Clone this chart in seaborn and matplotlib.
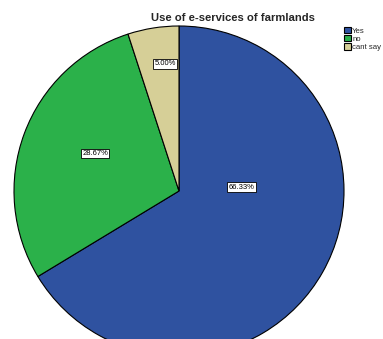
import matplotlib
matplotlib.use("Agg")
import matplotlib.pyplot as plt
import seaborn as sns
import numpy as np

# Data
labels = ["Yes", "no", "cant say"]
shares = [66.33, 28.67, 5.00]
colors = ["#2f52a0", "#2bb14a", "#d6cf97"]

sns.set_theme(style="white")
plt.rcParams['font.family'] = ['Arial', 'Liberation Sans', 'DejaVu Sans']

fig = plt.figure(figsize=(3.83, 3.39), dpi=100)
ax = fig.add_axes([0, 0, 1, 1])

wedges, texts, autotexts = ax.pie(
    shares, colors=colors, startangle=90, counterclock=False,
    autopct='%1.2f%%', pctdistance=0.5,
    wedgeprops=dict(edgecolor='black', linewidth=0.8),
    textprops=dict(fontsize=5.5, color='black'),
)

# SPSS-like label placement (radius, angle in degrees)
label_spots = [(0.38, 3.6), (0.557, 156.0), (0.775, 96.3)]
for t, (r, a) in zip(autotexts, label_spots):
    t.set_position((r * np.cos(np.radians(a)), r * np.sin(np.radians(a))))
    t.set_bbox(dict(facecolor='white', edgecolor='black', linewidth=0.6, pad=1.0))

# pie centre at (179, 191) px, radius 165 px
ax.set_aspect('auto')
ax.set_xlim(-179 / 165, (383 - 179) / 165)
ax.set_ylim(-(339 - 191) / 165, 191 / 165)
ax.axis('off')

fig.text(233 / 383, 1 - 18 / 339, "Use of e-services of farmlands",
         ha='center', va='center', fontsize=8.1, fontweight='bold')

fig.legend(wedges, labels, loc='upper left', bbox_to_anchor=(344 / 383, 1 - 27 / 339),
           frameon=False, fontsize=5.6, handlelength=0.85, handleheight=0.85,
           handletextpad=0.2, labelspacing=0.05, borderpad=0, borderaxespad=0)

fig.savefig("out.png", dpi=100)
